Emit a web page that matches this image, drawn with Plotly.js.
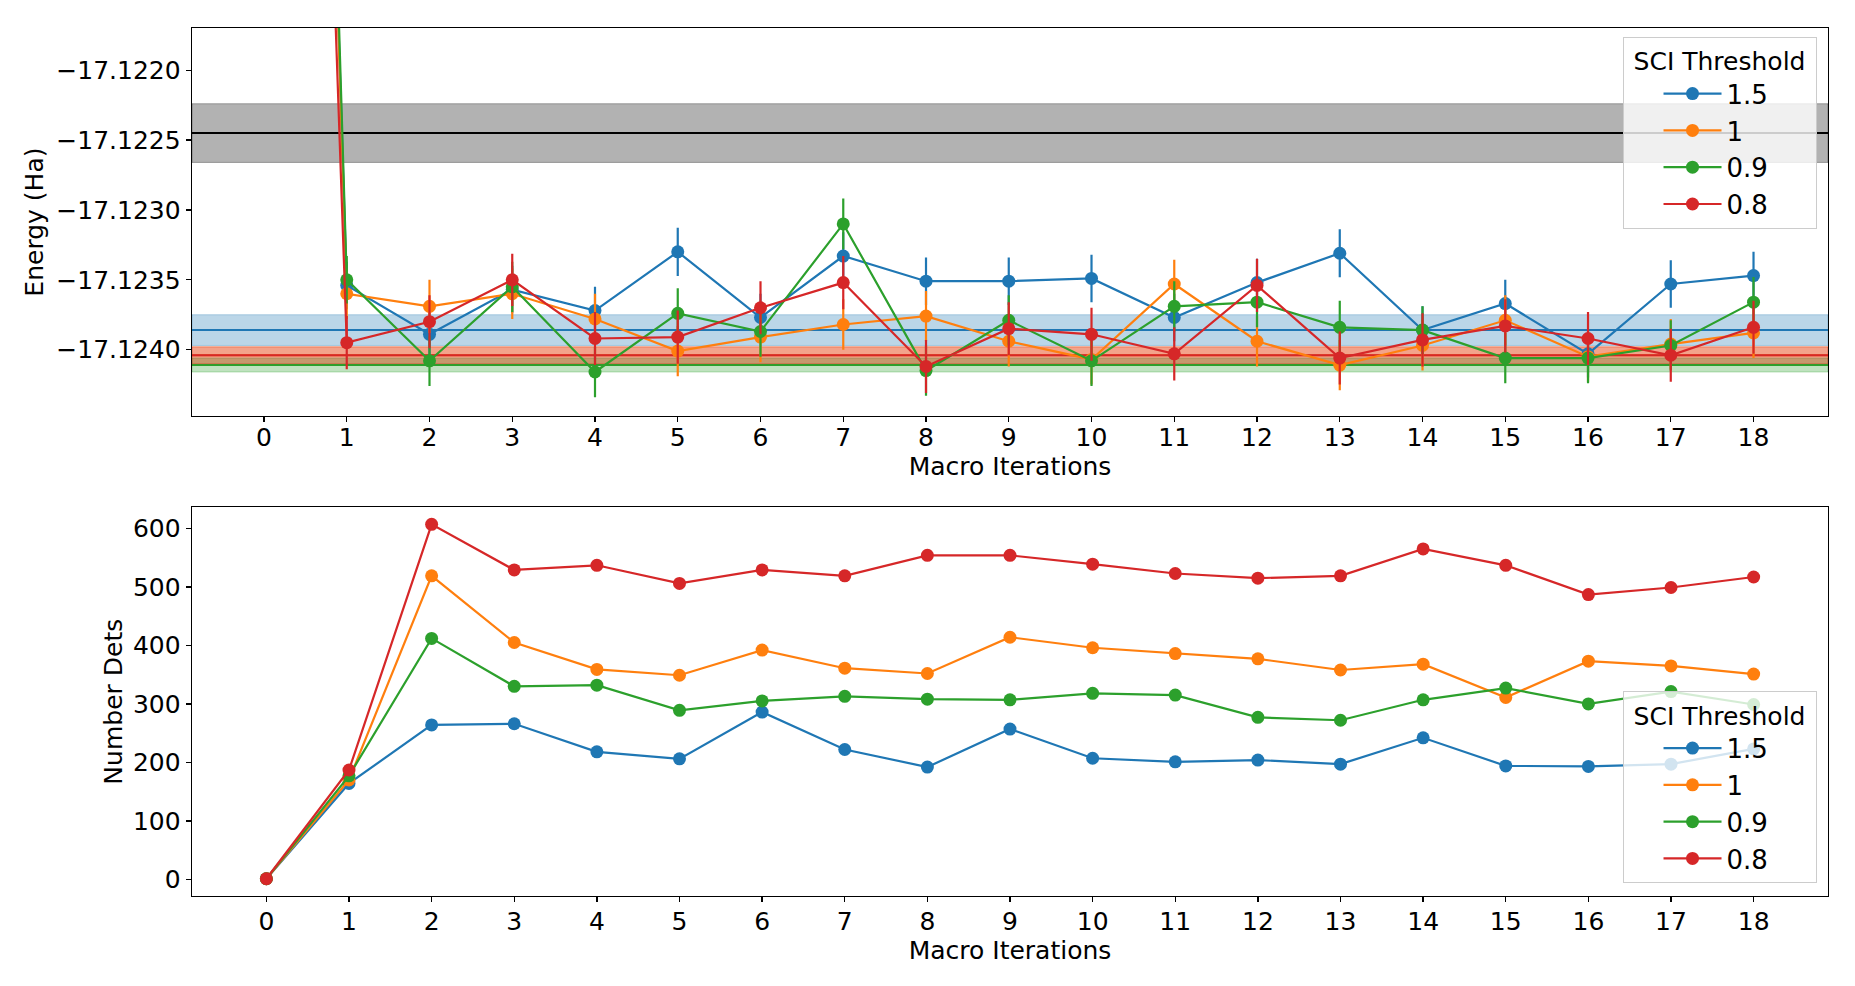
<!DOCTYPE html>
<html>
<head>
<meta charset="utf-8">
<script src="https://cdn.plot.ly/plotly-3.0.1.min.js"></script>
<style>html,body{margin:0;padding:0;background:#fff}#chart{width:1855px;height:986px}</style>
</head>
<body>
<div id="chart"></div>
<script>
// ---------- data ----------
const iterations = [0,1,2,3,4,5,6,7,8,9,10,11,12,13,14,15,16,17,18];
const thresholds = ["1.5", "1", "0.9", "0.8"];
const colors = ["#1f77b4", "#ff7f0e", "#2ca02c", "#d62728"];

// Energy (Ha) per macro iteration
const energy_15 = [-17.1050, -17.12354, -17.12389, -17.12357, -17.12372, -17.12330, -17.12377, -17.12333, -17.12351, -17.12351, -17.12349, -17.12377, -17.12352, -17.12331, -17.12386, -17.12367, -17.12403, -17.12353, -17.12347];
const energy_1  = [-17.1050, -17.12360, -17.12369, -17.12360, -17.12378, -17.12401, -17.12391, -17.12382, -17.12376, -17.12394, -17.12407, -17.12353, -17.12394, -17.12411, -17.12397, -17.12379, -17.12405, -17.12396, -17.12388];
const energy_09 = [-17.1040, -17.12350, -17.12408, -17.12355, -17.12416, -17.12374, -17.12387, -17.12310, -17.12415, -17.12379, -17.12408, -17.12369, -17.12366, -17.12384, -17.12386, -17.12406, -17.12406, -17.12397, -17.12366];
const energy_08 = [-17.1070, -17.12395, -17.12380, -17.12350, -17.12392, -17.12391, -17.12370, -17.12352, -17.12412, -17.12385, -17.12389, -17.12403, -17.12354, -17.12406, -17.12393, -17.12383, -17.12392, -17.12404, -17.12384];

// Energy error bars (Ha)
const err_15 = [0.00020, 0.00017, 0.00017, 0.00017, 0.00017, 0.000173, 0.00017, 0.00017, 0.00017, 0.00017, 0.00017, 0.00017, 0.00017, 0.000171, 0.00017, 0.00017, 0.00017, 0.00017, 0.00017];
const err_1  = [0.00020, 0.00018, 0.00019, 0.00018, 0.00018, 0.00018, 0.00018, 0.00018, 0.00018, 0.00018, 0.00018, 0.000174, 0.00018, 0.00018, 0.00018, 0.00018, 0.00018, 0.00018, 0.00018];
const err_09 = [0.00020, 0.00017, 0.00018, 0.00018, 0.00018, 0.00018, 0.00018, 0.000181, 0.00018, 0.00018, 0.00018, 0.00018, 0.00018, 0.00019, 0.000171, 0.00018, 0.00018, 0.00018, 0.00018];
const err_08 = [0.00020, 0.00019, 0.00019, 0.000187, 0.00019, 0.00019, 0.00019, 0.00019, 0.00019, 0.00019, 0.00019, 0.00019, 0.00019, 0.00019, 0.00019, 0.00019, 0.00019, 0.00019, 0.00019];

// Number of determinants per macro iteration
const dets_15 = [1, 164, 264, 266, 218, 206, 286, 222, 192, 257, 207, 201, 204, 197, 242, 194, 193, 197, 223];
const dets_1  = [1, 170, 519, 405, 359, 349, 392, 361, 352, 414, 396, 386, 377, 358, 368, 311, 373, 365, 351];
const dets_09 = [1, 177, 412, 330, 332, 289, 305, 313, 308, 307, 318, 315, 277, 272, 307, 327, 300, 321, 299];
const dets_08 = [1, 187, 607, 529, 537, 506, 529, 519, 554, 554, 539, 523, 515, 519, 565, 537, 487, 499, 517];

// Reference energies (horizontal line + band): exact reference, then per threshold
const ref_centers = [-17.12245, -17.12386, -17.12404, -17.12411, -17.12404];
const ref_halfwidths = [0.00021, 0.00011, 0.00006, 0.00005, 0.00006];
const ref_colors = ["#000000", "#1f77b4", "#ff7f0e", "#2ca02c", "#d62728"];
const ref_order = [0, 1, 2, 3, 4];

// Tick labels
const energy_tickvals = [-17.1220, -17.1225, -17.1230, -17.1235, -17.1240];
const energy_ticktext = ["\u221217.1220", "\u221217.1225", "\u221217.1230", "\u221217.1235", "\u221217.1240"];
const dets_tickvals = [0, 100, 200, 300, 400, 500, 600];
const iter_ticks = iterations;

// ---------- build ----------
const energies = [energy_15, energy_1, energy_09, energy_08];
const errs = [err_15, err_1, err_09, err_08];
const dets = [dets_15, dets_1, dets_09, dets_08];
const FONT = "DejaVu Sans";

function rgba(hex, a) {
  const r = parseInt(hex.slice(1,3),16), g = parseInt(hex.slice(3,5),16), b = parseInt(hex.slice(5,7),16);
  return `rgba(${r},${g},${b},${a})`;
}

const traces = [];
thresholds.forEach((t, i) => {
  traces.push({
    x: iterations, y: energies[i], type: "scatter", mode: "lines+markers",
    name: t, legend: "legend", legendgroup: "e" + i,
    line: {color: colors[i], width: 2.2},
    marker: {color: colors[i], size: 13},
    error_y: {type: "data", array: errs[i], visible: true, color: colors[i], thickness: 2.2, width: 0},
    xaxis: "x", yaxis: "y"
  });
});
thresholds.forEach((t, i) => {
  traces.push({
    x: iterations, y: dets[i], type: "scatter", mode: "lines+markers",
    name: t, legend: "legend2", legendgroup: "n" + i,
    line: {color: colors[i], width: 2.2},
    marker: {color: colors[i], size: 13},
    xaxis: "x2", yaxis: "y2"
  });
});

const shapes = [];
ref_order.forEach(k => {
  shapes.push({
    type: "rect", xref: "x domain", yref: "y", x0: 0, x1: 1,
    y0: ref_centers[k] - ref_halfwidths[k], y1: ref_centers[k] + ref_halfwidths[k],
    fillcolor: rgba(ref_colors[k], 0.3), line: {color: rgba(ref_colors[k], 0.3), width: 1}, layer: "below"
  });
  shapes.push({
    type: "line", xref: "x domain", yref: "y", x0: 0, x1: 1,
    y0: ref_centers[k], y1: ref_centers[k],
    line: {color: ref_colors[k], width: 2}, layer: "below"
  });
});

const axisCommon = {
  showline: true, mirror: true, linecolor: "#000", linewidth: 1.3,
  ticks: "outside", ticklen: 5, tickwidth: 1.3, tickcolor: "#000",
  showgrid: false, zeroline: false,
  tickfont: {family: FONT, size: 25, color: "#000"}
};

const legendCommon = {
  bgcolor: "rgba(255,255,255,0.8)", bordercolor: "#cccccc", borderwidth: 1,
  font: {family: FONT, size: 26, color: "#000"},
  title: {text: "\u00A0SCI Threshold\u00A0", side: "top center", font: {family: FONT, size: 25, color: "#000"}},
  xanchor: "left", yanchor: "top", itemwidth: 58, indentation: 35, tracegroupgap: 2,
  traceorder: "normal"
};

const layout = {
  width: 1855, height: 986,
  margin: {l: 192, r: 27, t: 28, b: 90},
  paper_bgcolor: "#fff", plot_bgcolor: "#fff",
  font: {family: FONT, size: 25, color: "#000"},
  showlegend: true,
  xaxis: Object.assign({}, axisCommon, {
    domain: [0, 1], anchor: "y", range: [-0.87, 18.9],
    tickvals: iter_ticks, ticktext: iter_ticks.map(String), ticklabelstandoff: -6,
    title: {text: "Macro Iterations", font: {family: FONT, size: 25}, standoff: 0}
  }),
  yaxis: Object.assign({}, axisCommon, {
    domain: [0.5528, 1], anchor: "x", range: [-17.124476, -17.121698],
    tickvals: energy_tickvals, ticktext: energy_ticktext,
    title: {text: "Energy (Ha)", font: {family: FONT, size: 25}, standoff: 5}
  }),
  xaxis2: Object.assign({}, axisCommon, {
    domain: [0, 1], anchor: "y2", range: [-0.9, 18.9],
    tickvals: iter_ticks, ticktext: iter_ticks.map(String), ticklabelstandoff: -2,
    title: {text: "Macro Iterations", font: {family: FONT, size: 25}, standoff: 0}
  }),
  yaxis2: Object.assign({}, axisCommon, {
    domain: [0, 0.4477], anchor: "x2", range: [-28.5, 636],
    tickvals: dets_tickvals, ticktext: dets_tickvals.map(String),
    title: {text: "Number Dets", font: {family: FONT, size: 25}, standoff: 3}
  }),
  legend: Object.assign({}, legendCommon, {x: 0.8744, y: 0.99}),
  legend2: Object.assign({}, legendCommon, {x: 0.8744, y: 0.236}),
  shapes: shapes
};

Plotly.newPlot("chart", traces, layout, {staticPlot: true, displayModeBar: false});
</script>
</body>
</html>
